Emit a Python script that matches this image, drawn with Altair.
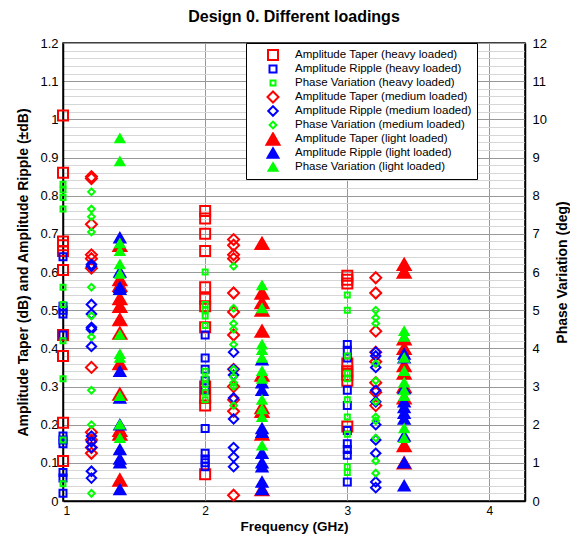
import altair as alt
import pandas as pd

# ---------------- data ----------------
SERIES = [
    "Amplitude Taper (heavy loaded)", "Amplitude Ripple (heavy loaded)", "Phase Variation (heavy loaded)",
    "Amplitude Taper (medium loaded)", "Amplitude Ripple (medium loaded)", "Phase Variation (medium loaded)",
    "Amplitude Taper (light loaded)", "Amplitude Ripple (light loaded)", "Phase Variation (light loaded)",
]
X_HEAVY = [1.0, 2.0, 3.0]
X_MEDIUM = [1.2, 2.2, 3.2]
X_LIGHT = [1.4, 2.4, 3.4]

# 1 GHz group
TAPER_HEAVY_1 = [1.01, 0.86, 0.68, 0.67, 0.655, 0.605, 0.435, 0.38, 0.205, 0.105]
RIPPLE_HEAVY_1 = [0.64, 0.51, 0.50, 0.49, 0.435, 0.17, 0.16, 0.15, 0.075, 0.06, 0.02]
PHASE_HEAVY_1 = [8.3, 8.15, 7.95, 7.65, 5.6, 5.15, 4.2, 3.2, 1.6, 0.45]
TAPER_MEDIUM_1 = [0.85, 0.845, 0.725, 0.645, 0.635, 0.61, 0.35, 0.18, 0.16, 0.14, 0.125]
RIPPLE_MEDIUM_1 = [0.62, 0.615, 0.515, 0.49, 0.455, 0.45, 0.405, 0.17, 0.155, 0.14, 0.078, 0.06]
PHASE_MEDIUM_1 = [8.1, 7.65, 7.45, 7.05, 5.6, 4.85, 4.3, 2.9, 2.0, 0.2]
TAPER_LIGHT_1 = [0.67, 0.58, 0.565, 0.53, 0.51, 0.475, 0.44, 0.36, 0.28, 0.185, 0.175, 0.055]
RIPPLE_LIGHT_1 = [0.69, 0.60, 0.56, 0.555, 0.34, 0.27, 0.20, 0.135, 0.11, 0.10, 0.03]
PHASE_LIGHT_1 = [9.5, 8.9, 6.75, 6.55, 6.2, 5.95, 4.35, 3.85, 3.75, 2.75, 2.0, 1.65]

# 2 GHz group
TAPER_HEAVY_2 = [0.76, 0.74, 0.70, 0.655, 0.56, 0.53, 0.51, 0.455, 0.30, 0.27, 0.25, 0.07]
RIPPLE_HEAVY_2 = [0.435, 0.375, 0.345, 0.315, 0.29, 0.19, 0.125, 0.11, 0.10, 0.09]
PHASE_HEAVY_2 = [6.0, 5.15, 5.0, 4.85, 4.6, 3.4, 3.2, 3.05, 2.85, 2.65]
TAPER_MEDIUM_2 = [0.685, 0.67, 0.645, 0.635, 0.545, 0.495, 0.435, 0.345, 0.30, 0.265, 0.235, 0.015]
RIPPLE_MEDIUM_2 = [0.39, 0.345, 0.33, 0.27, 0.215, 0.14, 0.115, 0.09]
PHASE_MEDIUM_2 = [6.15, 5.05, 4.65, 4.5, 4.1, 3.45, 3.25, 3.1, 3.0, 2.5]
TAPER_LIGHT_2 = [0.675, 0.545, 0.52, 0.50, 0.445, 0.33, 0.245, 0.235, 0.175, 0.03]
RIPPLE_LIGHT_2 = [0.37, 0.31, 0.29, 0.19, 0.18, 0.125, 0.10, 0.09, 0.05, 0.03]
PHASE_LIGHT_2 = [5.65, 5.05, 4.1, 3.95, 3.75, 3.4, 3.2, 2.65, 2.4, 2.2, 1.45]

# 3 GHz group
TAPER_HEAVY_3 = [0.59, 0.58, 0.57, 0.36, 0.34, 0.33, 0.315, 0.195]
RIPPLE_HEAVY_3 = [0.41, 0.395, 0.375, 0.29, 0.25, 0.185, 0.15, 0.135, 0.12, 0.05]
PHASE_HEAVY_3 = [5.4, 5.0, 3.8, 3.35, 3.2, 2.65, 2.2, 1.75, 0.9, 0.75]
TAPER_MEDIUM_3 = [0.585, 0.545, 0.445, 0.39, 0.365, 0.31, 0.285, 0.25]
RIPPLE_MEDIUM_3 = [0.39, 0.38, 0.35, 0.29, 0.26, 0.20, 0.16, 0.125, 0.05, 0.035]
PHASE_MEDIUM_3 = [5.0, 4.8, 4.65, 3.6, 3.15, 2.6, 2.2, 2.1, 1.65, 1.05, 0.73]
TAPER_LIGHT_3 = [0.62, 0.60, 0.425, 0.40, 0.355, 0.335, 0.30, 0.27, 0.145, 0.10]
RIPPLE_LIGHT_3 = [0.385, 0.375, 0.295, 0.26, 0.245, 0.23, 0.215, 0.17, 0.10, 0.04]
PHASE_LIGHT_3 = [4.45, 4.3, 3.75, 3.4, 3.1, 2.9, 2.75, 1.9, 1.65]

STROKES = ["#ff0000", "#0000ff", "#00ff00"] * 3
FILLS = ["transparent"] * 6 + ["#ff0000", "#0000ff", "#00ff00"]
SHAPES = ["square"] * 3 + ["diamond"] * 3 + ["triangle-up"] * 3
SIZES = [100, 49, 25, 121, 90, 45, 170, 120, 80]

# ---------------- tables ----------------
amp_groups = [
    (SERIES[0], X_HEAVY, [TAPER_HEAVY_1, TAPER_HEAVY_2, TAPER_HEAVY_3]),
    (SERIES[1], X_HEAVY, [RIPPLE_HEAVY_1, RIPPLE_HEAVY_2, RIPPLE_HEAVY_3]),
    (SERIES[3], X_MEDIUM, [TAPER_MEDIUM_1, TAPER_MEDIUM_2, TAPER_MEDIUM_3]),
    (SERIES[4], X_MEDIUM, [RIPPLE_MEDIUM_1, RIPPLE_MEDIUM_2, RIPPLE_MEDIUM_3]),
    (SERIES[6], X_LIGHT, [TAPER_LIGHT_1, TAPER_LIGHT_2, TAPER_LIGHT_3]),
    (SERIES[7], X_LIGHT, [RIPPLE_LIGHT_1, RIPPLE_LIGHT_2, RIPPLE_LIGHT_3]),
]
ph_groups = [
    (SERIES[2], X_HEAVY, [PHASE_HEAVY_1, PHASE_HEAVY_2, PHASE_HEAVY_3]),
    (SERIES[5], X_MEDIUM, [PHASE_MEDIUM_1, PHASE_MEDIUM_2, PHASE_MEDIUM_3]),
    (SERIES[8], X_LIGHT, [PHASE_LIGHT_1, PHASE_LIGHT_2, PHASE_LIGHT_3]),
]


def build(groups):
    rows = []
    order = 0
    for name, xs, lists in groups:
        for xv, vals in zip(xs, lists):
            for v in vals:
                rows.append({"series": name, "freq": xv, "value": v, "order": order})
                order += 1
    return pd.DataFrame(rows)


df_amp = build(amp_groups)
df_ph = build(ph_groups)

FONT = "Liberation Sans"
MINOR_VALUES = [round(i * 0.02, 2) for i in range(61)]
IS_MAJOR = "abs(datum.value*10 - round(datum.value*10)) < 0.01"

legend = alt.Legend(
    title=None, orient="none", legendX=183, legendY=0, direction="vertical",
    fillColor="white", strokeColor="black", padding=5, symbolOffset=14,
    labelFont=FONT, labelFontSize=11.5, labelColor="black", labelOffset=14,
    rowPadding=0, clipHeight=14, symbolStrokeWidth=2, labelLimit=300,
)

x_enc = alt.X(
    "freq:Q",
    scale=alt.Scale(domain=[1, 4.25], nice=False, zero=False),
    axis=alt.Axis(
        values=[1, 2, 3, 4], format="d", title="Frequency (GHz)", grid=True,
        gridColor="#999999", gridWidth=1, ticks=False, labelPadding=4,
        labelFont=FONT, labelFontSize=12, labelColor="black",
        titleFont=FONT, titleFontSize=13.5, titleFontWeight="bold", titleColor="black",
        titlePadding=3, domainColor="black", domainWidth=1.5,
    ),
)

common = dict(
    stroke=alt.Stroke("series:N", scale=alt.Scale(domain=SERIES, range=STROKES), legend=legend),
    fill=alt.Fill("series:N", scale=alt.Scale(domain=SERIES, range=FILLS), legend=legend),
    shape=alt.Shape("series:N", scale=alt.Scale(domain=SERIES, range=SHAPES), legend=legend),
    size=alt.Size("series:N", scale=alt.Scale(type="ordinal", domain=SERIES, range=SIZES), legend=legend),
    order=alt.Order("order:Q"),
)

amp = alt.Chart(df_amp).mark_point(strokeWidth=2, opacity=1).encode(
    x=x_enc,
    y=alt.Y(
        "value:Q",
        scale=alt.Scale(domain=[0, 1.2], nice=False, zero=True),
        axis=alt.Axis(
            orient="left", values=MINOR_VALUES,
            labelExpr=f"{IS_MAJOR} ? format(datum.value, '~g') : ''",
            title="Amplitude Taper (dB) and Amplitude Ripple (\u00b1dB)",
            grid=True,
            gridColor={"condition": {"test": IS_MAJOR, "value": "#999999"}, "value": "#d6d6d6"},
            ticks=False, labelPadding=5, labelFont=FONT, labelFontSize=13, labelColor="black",
            titleFont=FONT, titleFontSize=14, titleFontWeight="bold", titleColor="black",
            titlePadding=9, domainColor="black", domainWidth=1.5,
        ),
    ),
    **common,
)

ph = alt.Chart(df_ph).mark_point(strokeWidth=2, opacity=1).encode(
    x=x_enc,
    y=alt.Y(
        "value:Q",
        scale=alt.Scale(domain=[0, 12], nice=False, zero=True),
        axis=alt.Axis(
            orient="right", values=list(range(13)), format="d",
            title="Phase Variation (deg)", grid=False, titleAngle=270, titleBaseline="top",
            ticks=False, labelPadding=7, labelFont=FONT, labelFontSize=13, labelColor="black",
            titleFont=FONT, titleFontSize=14, titleFontWeight="bold", titleColor="black",
            titlePadding=9, domainColor="black", domainWidth=1.5,
        ),
    ),
    **common,
)

chart = (
    alt.layer(amp, ph)
    .resolve_scale(y="independent")
    .properties(
        width=462, height=458,
        title=alt.Title("Design 0. Different loadings", font=FONT, fontSize=16,
                        fontWeight="bold", color="black", offset=12),
        autosize=alt.AutoSizeParams(type="none"),
        padding={"left": 55, "top": 35, "right": 45, "bottom": 35},
    )
    .configure_view(stroke="black", strokeWidth=1.5)
)

chart.save("out.html", embed_options={"renderer": "svg", "actions": False})
